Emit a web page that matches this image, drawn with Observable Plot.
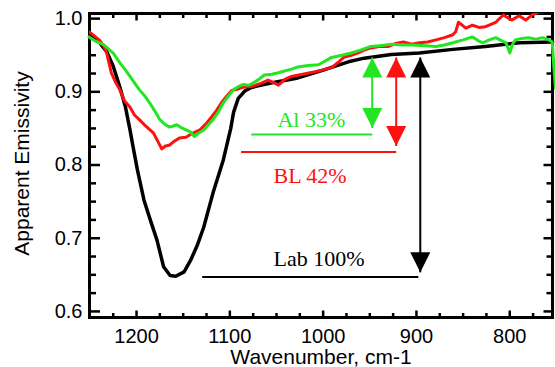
<!DOCTYPE html>
<html>
<head>
<meta charset="utf-8">
<script src="https://cdn.jsdelivr.net/npm/d3@7"></script>
<script src="https://cdn.jsdelivr.net/npm/@observablehq/plot@0.6"></script>
<style>
  html, body { margin: 0; padding: 0; background: white; }
</style>
</head>
<body>
<div id="chart"></div>
<script>
// ---- Data ----
const labWave = [1250, 1240, 1232, 1225, 1218, 1212, 1207, 1203, 1199, 1192, 1185, 1178, 1171, 1164, 1158, 1149, 1142, 1135, 1128, 1118, 1107, 1102, 1099, 1096, 1091, 1084, 1077, 1056, 1027, 999, 973, 956, 927, 897, 861, 826, 790, 754];
const labEmis = [0.978, 0.968, 0.955, 0.935, 0.907, 0.880, 0.848, 0.820, 0.793, 0.752, 0.724, 0.697, 0.661, 0.649, 0.648, 0.654, 0.670, 0.690, 0.715, 0.762, 0.807, 0.834, 0.850, 0.872, 0.891, 0.901, 0.906, 0.912, 0.919, 0.930, 0.941, 0.946, 0.951, 0.953, 0.958, 0.962, 0.967, 0.968];

const blWave = [1251, 1245, 1240, 1235, 1232, 1227, 1222, 1218, 1213, 1207, 1202, 1197, 1190, 1182, 1177, 1173, 1169, 1165, 1160, 1154, 1147, 1139, 1132, 1125, 1120, 1114, 1109, 1104, 1098, 1093, 1087, 1082, 1077, 1068, 1059, 1052, 1048, 1041, 1034, 1022, 1010, 1000, 991, 984, 978, 970, 963, 956, 949, 940, 930, 922, 914, 905, 897, 888, 879, 870, 861, 858, 855, 847, 840, 833, 826, 815, 807, 798, 790, 783, 776, 769, 760, 754];
const blEmis = [0.982, 0.976, 0.971, 0.962, 0.953, 0.926, 0.912, 0.903, 0.888, 0.879, 0.868, 0.862, 0.853, 0.844, 0.832, 0.822, 0.826, 0.827, 0.832, 0.837, 0.838, 0.844, 0.848, 0.857, 0.865, 0.875, 0.885, 0.893, 0.902, 0.903, 0.906, 0.907, 0.907, 0.911, 0.916, 0.912, 0.909, 0.917, 0.921, 0.924, 0.927, 0.930, 0.933, 0.940, 0.947, 0.950, 0.953, 0.957, 0.960, 0.962, 0.962, 0.966, 0.968, 0.965, 0.967, 0.968, 0.971, 0.974, 0.978, 0.982, 0.995, 0.987, 0.991, 0.988, 0.989, 0.995, 1.005, 0.998, 1.004, 0.998, 1.005, 1.009, 1.010, 1.010];

const alWave = [1251, 1245, 1235, 1225, 1218, 1212, 1207, 1202, 1197, 1191, 1186, 1180, 1175, 1170, 1165, 1161, 1157, 1152, 1147, 1142, 1138, 1134, 1128, 1123, 1118, 1112, 1107, 1101, 1096, 1091, 1086, 1080, 1075, 1069, 1063, 1055, 1048, 1040, 1034, 1027, 1016, 1005, 998, 991, 980, 970, 960, 949, 940, 927, 915, 904, 890, 879, 870, 861, 850, 840, 834, 829, 822, 815, 809, 804, 800, 797, 794, 787, 780, 772, 765, 758, 754.5, 752.5, 751];
const alEmis = [0.975, 0.970, 0.964, 0.953, 0.940, 0.930, 0.921, 0.912, 0.903, 0.894, 0.885, 0.873, 0.862, 0.856, 0.852, 0.853, 0.855, 0.851, 0.848, 0.845, 0.839, 0.843, 0.848, 0.855, 0.862, 0.873, 0.885, 0.895, 0.903, 0.907, 0.910, 0.909, 0.912, 0.917, 0.923, 0.924, 0.926, 0.929, 0.931, 0.934, 0.936, 0.937, 0.942, 0.947, 0.950, 0.953, 0.957, 0.962, 0.963, 0.965, 0.964, 0.964, 0.963, 0.962, 0.964, 0.967, 0.971, 0.975, 0.970, 0.967, 0.971, 0.974, 0.970, 0.967, 0.953, 0.965, 0.971, 0.973, 0.974, 0.972, 0.974, 0.971, 0.968, 0.930, 0.905];

// ticks
const xTickValues = [1200, 1100, 1000, 900, 800];
const yTickValues = [0.6, 0.7, 0.8, 0.9, 1.0];
const xMinorTicks = [1225, 1175, 1150, 1125, 1075, 1050, 1025, 975, 950, 925, 875, 850, 825, 775];
const yMinorTicks = [0.625, 0.65, 0.675, 0.725, 0.75, 0.775, 0.825, 0.85, 0.875, 0.925, 0.95, 0.975];

// annotations
const annLabels = ["Al 33%", "BL 42%", "Lab 100%"];
const annColors = ["#22e622", "#ff1010", "#000000"];
const arrowWave = [947.4, 921.7, 895.9];
const arrowTop = [0.947, 0.947, 0.947];
const arrowBottom = [0.8506, 0.826, 0.6534];
const lineStart = [1077, 1088, 1129.6];
const lineEnd = [947.4, 921.7, 898];
const lineLevel = [0.8416, 0.8178, 0.647];
const textWave = [1049, 1053.2, 1053.2];
const textLevel = [0.852, 0.775, 0.6616];

// ---- Build ----
const ann = annLabels.map((label, i) => ({
  label, color: annColors[i], x: arrowWave[i], top: arrowTop[i], bottom: arrowBottom[i],
  x1: lineStart[i], x2: lineEnd[i], ly: lineLevel[i], tx: textWave[i], ty: textLevel[i]
}));

const headUp = {draw(ctx, size) { const r = Math.sqrt(size / Math.PI); ctx.moveTo(0, 0); ctx.lineTo(r, 2 * r); ctx.lineTo(-r, 2 * r); ctx.closePath(); }};
const headDown = {draw(ctx, size) { const r = Math.sqrt(size / Math.PI); ctx.moveTo(0, 0); ctx.lineTo(r, -2 * r); ctx.lineTo(-r, -2 * r); ctx.closePath(); }};

const sans = "'Liberation Sans', Arial, Helvetica, sans-serif";
const serif = "'Liberation Serif', 'Times New Roman', serif";

const W = 555, H = 367, mL = 89, mR = 3, mT = 13, mB = 50;
const fw = W - mL - mR, fh = H - mT - mB;
const xDomain = [1250.4, 754.2], yDomain = [0.5917, 1.007];
const xPerPx = (xDomain[0] - xDomain[1]) / fw;
const yPerPx = (yDomain[1] - yDomain[0]) / fh;

// inward tick segments built from the tick value arrays
const tickSegs = [];
function addX(values, len) {
  for (const v of values) {
    tickSegs.push({x1: v, x2: v, y1: yDomain[0], y2: yDomain[0] + len * yPerPx});
    tickSegs.push({x1: v, x2: v, y1: yDomain[1], y2: yDomain[1] - len * yPerPx});
  }
}
function addY(values, lenL, lenR) {
  for (const v of values) {
    tickSegs.push({y1: v, y2: v, x1: xDomain[0], x2: xDomain[0] - lenL * xPerPx});
    tickSegs.push({y1: v, y2: v, x1: xDomain[1], x2: xDomain[1] + lenR * xPerPx});
  }
}
addX(xMinorTicks, 4.5);
addX(xTickValues, 7);
addY(yMinorTicks, 6.5, 6);
addY(yTickValues, 10.5, 9);

const chart = Plot.plot({
  width: W,
  height: H,
  marginLeft: mL,
  marginRight: mR,
  marginTop: mT,
  marginBottom: mB,
  style: {fontFamily: sans, fontSize: "20px", background: "white", color: "black"},
  x: {domain: xDomain},
  y: {domain: yDomain},
  color: {type: "identity"},
  marks: [
    // frame & inward ticks
    Plot.frame({stroke: "black", strokeWidth: 3}),
    Plot.link(tickSegs, {x1: "x1", x2: "x2", y1: "y1", y2: "y2", stroke: "black", strokeWidth: 2.5}),
    // curves
    Plot.line(labWave, {x: labWave, y: labEmis, stroke: "black", strokeWidth: 3.5}),
    Plot.line(blWave, {x: blWave, y: blEmis, stroke: "#ff1010", strokeWidth: 3, clip: true}),
    Plot.line(alWave, {x: alWave, y: alEmis, stroke: "#22e622", strokeWidth: 3}),
    // annotations
    Plot.link(ann, {x1: "x", x2: "x", y1: "top", y2: "bottom", stroke: "color", strokeWidth: 2}),
    Plot.dot(ann, {x: "x", y: "top", symbol: headUp, r: 10, fill: "color"}),
    Plot.dot(ann, {x: "x", y: "bottom", symbol: headDown, r: 10, fill: "color"}),
    Plot.link(ann, {x1: "x1", x2: "x2", y1: "ly", y2: "ly", stroke: "color", strokeWidth: 2}),
    Plot.text(ann, {x: "tx", y: "ty", text: "label", fill: "color", textAnchor: "start", lineAnchor: "bottom", fontFamily: serif, fontSize: 22}),
    // tick labels
    Plot.axisX(xTickValues, {anchor: "bottom", tickSize: 0, tickPadding: 11, tickFormat: d => String(d), fontSize: 20, label: null}),
    Plot.axisY(yTickValues, {anchor: "left", tickSize: 0, tickPadding: 7, tickFormat: d3.format(".1f"), fontSize: 20, label: null}),
    // axis titles
    Plot.text(["Wavenumber, cm-1"], {text: d => d, frameAnchor: "bottom", dy: 46, lineAnchor: "bottom", textAnchor: "middle", fontSize: 21}),
    Plot.text(["Apparent Emissivity"], {text: d => d, frameAnchor: "left", rotate: -90, dx: -67, dy: -2, textAnchor: "middle", lineAnchor: "middle", fontSize: 21})
  ]
});
document.getElementById("chart").appendChild(chart);
</script>
</body>
</html>
